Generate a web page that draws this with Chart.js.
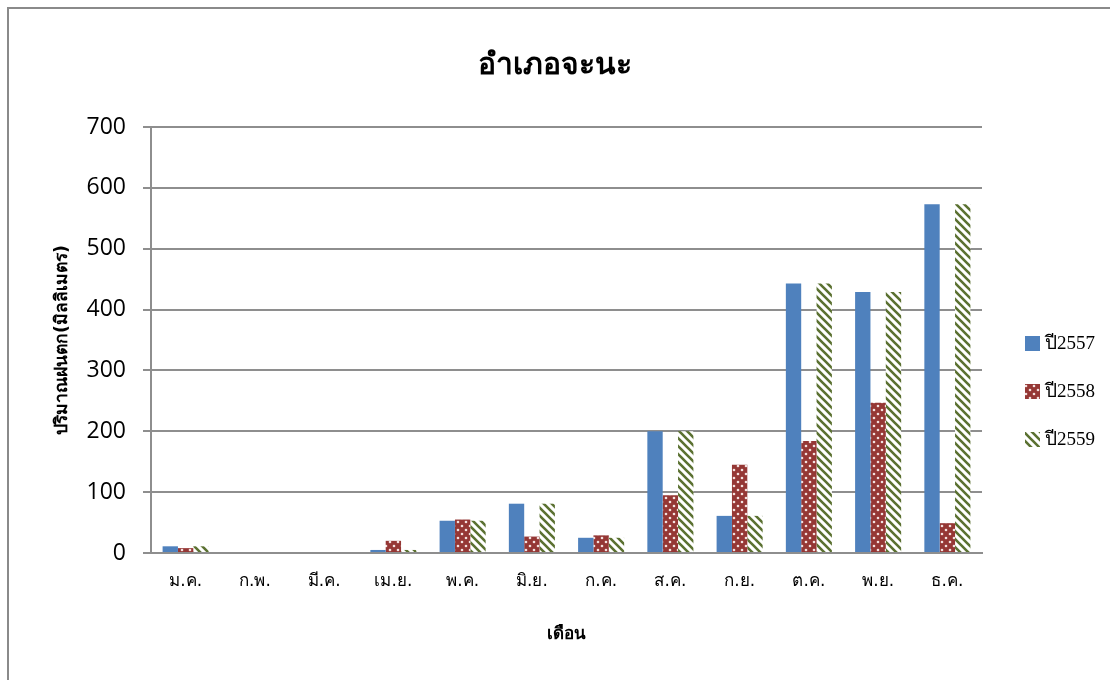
<!DOCTYPE html>
<html>
<head>
<meta charset="utf-8">
<script src="https://cdn.jsdelivr.net/npm/chart.js@4.4.1/dist/chart.umd.min.js"></script>
<style>
  html, body { margin: 0; padding: 0; background: #ffffff; }
  #wrap { position: relative; width: 1110px; height: 680px; }
</style>
</head>
<body>
<div id="wrap"><canvas id="c" width="1110" height="680"></canvas></div>
<script>
const months = ['ม.ค.','ก.พ.','มี.ค.','เม.ย.','พ.ค.','มิ.ย.','ก.ค.','ส.ค.','ก.ย.','ต.ค.','พ.ย.','ธ.ค.'];
const y2557 = [11, 0, 0, 5, 53, 81, 25, 200, 61, 443, 429, 573];
const y2558 = [8, 0, 0, 20, 55, 27, 29, 95, 145, 184, 247, 49];
const y2559 = [11, 0, 0, 5, 53, 81, 25, 200, 61, 443, 429, 573];
const seriesNames = ['ปี2557', 'ปี2558', 'ปี2559'];
const yTicks = [0, 100, 200, 300, 400, 500, 600, 700];
const chartTitle = 'อำเภอจะนะ';
const xTitle = 'เดือน';
const yTitle = 'ปริมาณฝนตก(มิลลิเมตร)';

function dotPattern() {
  const t = document.createElement('canvas');
  t.width = 8; t.height = 8;
  const g = t.getContext('2d');
  g.fillStyle = '#953735';
  g.fillRect(0, 0, 8, 8);
  g.fillStyle = '#f4e1e0';
  g.beginPath(); g.arc(2, 2, 1.3, 0, Math.PI * 2); g.fill();
  g.beginPath(); g.arc(6, 6, 1.3, 0, Math.PI * 2); g.fill();
  return g.createPattern(t, 'repeat');
}
function stripePattern() {
  const t = document.createElement('canvas');
  t.width = 8; t.height = 8;
  const g = t.getContext('2d');
  g.fillStyle = '#ffffff';
  g.fillRect(0, 0, 8, 8);
  g.strokeStyle = '#5b7131';
  g.lineWidth = 2.6;
  g.beginPath();
  g.moveTo(-2, -2); g.lineTo(10, 10);
  g.moveTo(-6, 2); g.lineTo(2, 10);
  g.moveTo(2, -6); g.lineTo(10, 2);
  g.stroke();
  return g.createPattern(t, 'repeat');
}

const fills = ['#4f81bd', dotPattern(), stripePattern()];
const values = [y2557, y2558, y2559];

const frame = {
  id: 'frame',
  beforeDraw(chart) {
    const ctx = chart.ctx;
    ctx.save();
    ctx.fillStyle = '#ffffff';
    ctx.fillRect(0, 0, chart.width, chart.height);
    ctx.strokeStyle = '#8a8a8a';
    ctx.lineWidth = 2;
    ctx.beginPath();
    ctx.moveTo(8, 690); ctx.lineTo(8, 8); ctx.lineTo(1120, 8);
    ctx.stroke();
    ctx.restore();
  }
};

const sideLegend = {
  id: 'sideLegend',
  afterDraw(chart) {
    const ctx = chart.ctx;
    ctx.save();
    const x0 = 1025, yc = 391, gap = 48;
    chart.data.datasets.forEach((ds, i) => {
      const y = yc + (i - 1) * gap;
      ctx.fillStyle = ds.backgroundColor;
      ctx.fillRect(x0, y - 7, 15, 15);
      ctx.fillStyle = '#000000';
      ctx.font = '19px "Liberation Serif", serif';
      ctx.textBaseline = 'middle';
      ctx.textAlign = 'left';
      ctx.fillText(ds.label, x0 + 20, y + 1);
    });
    ctx.restore();
  }
};

new Chart(document.getElementById('c'), {
  type: 'bar',
  data: {
    labels: months,
    datasets: seriesNames.map((n, i) => ({
      label: n,
      data: values[i],
      backgroundColor: fills[i],
      borderWidth: 0,
      barPercentage: 1.0,
      categoryPercentage: 0.665
    }))
  },
  options: {
    responsive: false,
    animation: false,
    devicePixelRatio: 1,
    layout: { padding: { left: 0, right: 0, top: 48, bottom: 28 } },
    plugins: {
      legend: { display: false },
      tooltip: { enabled: false },
      title: {
        display: true,
        text: chartTitle,
        color: '#000000',
        font: { size: 30, weight: 'bold', family: 'Tahoma, "DejaVu Sans", sans-serif' },
        padding: { top: 0, bottom: 43 }
      }
    },
    scales: {
      x: {
        grid: { display: false, drawTicks: false },
        border: { display: true, color: '#8e8e8e', width: 2 },
        ticks: {
          color: '#000000',
          padding: 18,
          font: { size: 17, family: '"DejaVu Sans", sans-serif' },
          maxRotation: 0
        },
        title: {
          display: true,
          text: xTitle,
          color: '#000000',
          font: { size: 17, weight: 'bold', family: '"DejaVu Sans", sans-serif' },
          padding: { top: 20, bottom: 7 }
        },
        afterFit(scale) { scale.height = 99; }
      },
      y: {
        min: 0,
        max: 700,
        afterBuildTicks(scale) { scale.ticks = yTicks.map(v => ({ value: v })); },
        grid: { color: '#8e8e8e', lineWidth: 2, tickLength: 8 },
        border: { display: true, color: '#8e8e8e', width: 2 },
        ticks: {
          color: '#000000',
          padding: 17,
          font: { size: 23, family: '"Open Sans", sans-serif' }
        },
        title: {
          display: true,
          text: yTitle,
          color: '#000000',
          font: { size: 17.5, weight: 'bold', family: '"DejaVu Sans", sans-serif' },
          padding: { top: 52, bottom: 4 }
        },
        afterFit(scale) { scale.width = 151; }
      },
      side: {
        position: 'right',
        display: true,
        grid: { display: false, drawTicks: false },
        border: { display: false },
        ticks: { display: false },
        afterFit(scale) { scale.width = 128; }
      }
    }
  },
  plugins: [frame, sideLegend]
});
</script>
</body>
</html>
